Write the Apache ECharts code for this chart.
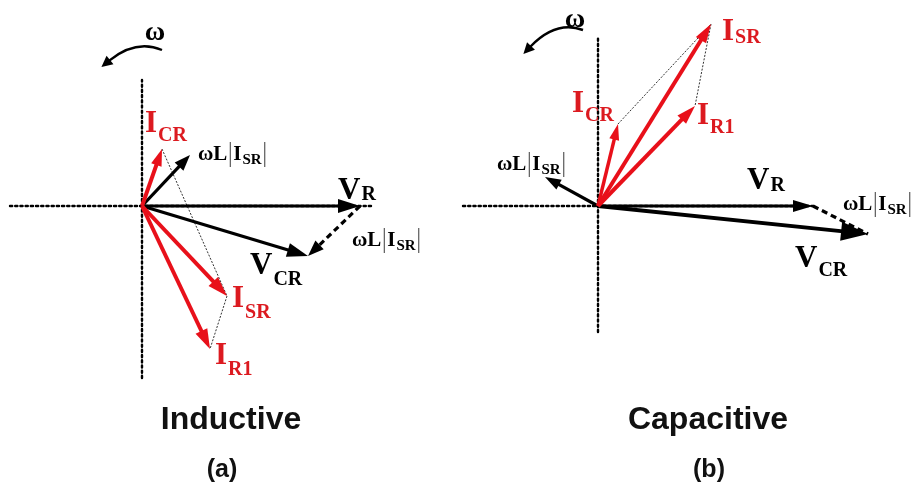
<!DOCTYPE html>
<html><head><meta charset="utf-8">
<script src="https://cdn.jsdelivr.net/npm/echarts@6/dist/echarts.min.js"></script>
<style>html,body{margin:0;padding:0;background:#fff}#c{width:914px;height:485px}</style>
</head><body><div id="c"></div>
<script>
// ---------------- data (phasor components, origin = 0,0, y up) ----------------
const vectorNames   = ['V_R', 'V_CR', 'wL_ISR', 'I_CR', 'I_SR', 'I_R1'];
const inductiveX    = [218, 166,  48,  20,  85,   68];
const inductiveY    = [  0, -50,  51,  57, -90, -143];
const capacitiveX   = [215, 270, -53,  20, 113,   97];
const capacitiveY   = [  0, -28,  29,  82, 182,  100];
const labelMain     = ['V', 'V', 'ωL', 'I', 'I', 'I'];
const labelSub      = ['R', 'CR', 'SR', 'CR', 'SR', 'R1'];
const panelTitles   = ['Inductive', 'Capacitive'];
const panelTags     = ['(a)', '(b)'];
const omegaText     = 'ω';

// ---------------- styles ----------------
const RED = '#e8101a', BLACK = '#000', LRED = '#dc1a20';
const MAINF = 'bold 31px "Liberation Serif"', SUBF = 'bold 20px "Liberation Serif"';
const WLF = 'bold 21px "Liberation Serif"', WLSUBF = 'bold 15px "Liberation Serif"';
const mctx = document.createElement('canvas').getContext('2d');
function tw(font, s) { mctx.font = font; return mctx.measureText(s).width; }

const vecStyleA = [
  {c: BLACK, w: 3.2, hl: 22, hw: 14}, {c: BLACK, w: 3.2, hl: 21, hw: 14}, {c: BLACK, w: 3.2, hl: 16, hw: 12},
  {c: RED, w: 4, hl: 17, hw: 11}, {c: RED, w: 4, hl: 20, hw: 13}, {c: RED, w: 4, hl: 20, hw: 13}];
const vecStyleB = [
  {c: BLACK, w: 2.8, hl: 20, hw: 12}, {c: BLACK, w: 3.8, hl: 27, hw: 19}, {c: BLACK, w: 3.2, hl: 16, hw: 11},
  {c: RED, w: 3.5, hl: 16, hw: 10}, {c: RED, w: 4, hl: 19, hw: 12}, {c: RED, w: 4, hl: 19, hw: 12}];
const dashStyleA = {c: BLACK, w: 3.2, hl: 16, hw: 12, dash: [6, 4]};
const dashStyleB = {c: BLACK, w: 3.2, hl: 0, hw: 0, dash: [6, 4]};
const dotStyle = {c: '#333', w: 1, hl: 0, hw: 0, dash: [2, 1.5]};

// label offsets (pixels, baseline-left of main glyph relative to vector tip)
const labelOffA = [[-22, -4], [-58, 21], [8, 7], [-17, -14], [5, 14], [5, 18]];
const labelSubDyA = [0, 10, 0, 8, 10, 10];
const labelOffB = [[-66, -14], [-73, 36], [-48, -5], [-46, -9], [11, 19], [2, 21]];
const labelSubDyB = [1, 8, 0, 8, 2, 8];
const dashLabelOffA = [-8, 42], dashLabelOffB = [30, 6];

function buildRows(X, Y) {
  const i = n => vectorNames.indexOf(n);
  const rows = [], kinds = [];
  rows.push([X[i('I_CR')], Y[i('I_CR')], X[i('I_SR')], Y[i('I_SR')]]); kinds.push('dot');
  rows.push([X[i('I_SR')], Y[i('I_SR')], X[i('I_R1')], Y[i('I_R1')]]); kinds.push('dot');
  rows.push([X[i('V_R')], Y[i('V_R')], X[i('V_CR')], Y[i('V_CR')]]); kinds.push('dash');
  [0, 1, 2, 3, 4, 5].forEach(k => { rows.push([0, 0, X[k], Y[k]]); kinds.push(k); });
  return {rows, kinds};
}

function arrow(p0, p1, st) {
  const dx = p1[0] - p0[0], dy = p1[1] - p0[1];
  const L = Math.hypot(dx, dy), ux = dx / L, uy = dy / L;
  const bx = p1[0] - ux * st.hl, by = p1[1] - uy * st.hl;
  const end = st.hl > 0 ? [bx + ux * 2, by + uy * 2] : p1;
  const ch = [{type: 'line', shape: {x1: p0[0], y1: p0[1], x2: end[0], y2: end[1]},
    style: {stroke: st.c, lineWidth: st.w, lineDash: st.dash || null, fill: null}}];
  if (st.hl > 0) ch.push({type: 'polygon', shape: {points: [[p1[0], p1[1]],
    [bx - uy * st.hw / 2, by + ux * st.hw / 2], [bx + uy * st.hw / 2, by - ux * st.hw / 2]]},
    style: {fill: st.c}});
  return {type: 'group', children: ch};
}

function arrowSeries(X, Y, vs, ds, gi) {
  const b = buildRows(X, Y);
  return {
    type: 'custom', xAxisIndex: gi, yAxisIndex: gi, clip: false, silent: true,
    data: b.rows, encode: {x: [0, 2], y: [1, 3]},
    renderItem: (params, api) => {
      const k = b.kinds[params.dataIndex];
      const st = k === 'dot' ? dotStyle : (k === 'dash' ? ds : vs[k]);
      return arrow(api.coord([api.value(0), api.value(1)]), api.coord([api.value(2), api.value(3)]), st);
    }
  };
}

function txt(x, base, s, font, fs, color) {
  return {type: 'text', style: {x: x, y: base - 0.34 * fs, text: s, font: font, fill: color,
    align: 'left', verticalAlign: 'middle'}};
}
function wlLabel(x, base) {
  const ch = [];
  ch.push(txt(x, base, labelMain[2], WLF, 21, BLACK));
  let cx = x + tw(WLF, labelMain[2]) + 3;
  ch.push({type: 'line', shape: {x1: cx, y1: base - 20, x2: cx, y2: base + 5}, style: {stroke: '#666', lineWidth: 1.3}});
  cx += 3;
  ch.push(txt(cx, base, 'I', WLF, 21, BLACK));
  cx += tw(WLF, 'I') + 1;
  ch.push(txt(cx, base + 3, labelSub[2], WLSUBF, 15, BLACK));
  cx += tw(WLSUBF, labelSub[2]) + 3;
  ch.push({type: 'line', shape: {x1: cx, y1: base - 20, x2: cx, y2: base + 5}, style: {stroke: '#666', lineWidth: 1.3}});
  return ch;
}
function ivLabel(x, base, main, sub, subDy, color) {
  const w = tw(MAINF, main);
  return [txt(x, base, main, MAINF, 31, color), txt(x + w + 1, base + subDy, sub, SUBF, 20, color)];
}

function labelSeries(X, Y, offs, subDys, dOff, gi) {
  const rows = X.map((x, k) => [x, Y[k]]);
  rows.push([X[0], Y[0]]); // dashed label anchored at V_R tip
  return {
    type: 'custom', xAxisIndex: gi, yAxisIndex: gi, clip: false, silent: true,
    data: rows, encode: {x: 0, y: 1},
    renderItem: (params, api) => {
      const i = params.dataIndex;
      const p = api.coord([api.value(0), api.value(1)]);
      let ch;
      if (i === 6) ch = wlLabel(p[0] + dOff[0], p[1] + dOff[1]);
      else if (i === 2) ch = wlLabel(p[0] + offs[i][0], p[1] + offs[i][1]);
      else ch = ivLabel(p[0] + offs[i][0], p[1] + offs[i][1], labelMain[i], labelSub[i], subDys[i], i >= 3 ? LRED : BLACK);
      return {type: 'group', children: ch};
    }
  };
}

const axisLineStyle = {show: true, onZero: true, lineStyle: {color: '#000', width: 2.4, type: [2.2, 3]}};
function xAx(gi, min, max) { return {type: 'value', gridIndex: gi, min, max, axisLine: axisLineStyle, axisTick: {show: false}, axisLabel: {show: false}, splitLine: {show: false}}; }
function yAx(gi, min, max) { return {type: 'value', gridIndex: gi, min, max, axisLine: axisLineStyle, axisTick: {show: false}, axisLabel: {show: false}, splitLine: {show: false}}; }

function curvedArrow(x0, y0, cx, cy, x1, y1, tipLen, hw) {
  const dx = x1 - cx, dy = y1 - cy, L = Math.hypot(dx, dy), ux = dx / L, uy = dy / L;
  const tx = x1 + ux * tipLen, ty = y1 + uy * tipLen;
  return [
    {type: 'bezierCurve', shape: {x1: x0, y1: y0, cpx1: cx, cpy1: cy, x2: x1 + ux * 1, y2: y1 + uy * 1}, style: {stroke: BLACK, lineWidth: 2.4, fill: null}},
    {type: 'polygon', shape: {points: [[tx, ty], [x1 - uy * hw / 2, y1 + ux * hw / 2], [x1 + uy * hw / 2, y1 - ux * hw / 2]]}, style: {fill: BLACK}}
  ];
}

const chart = echarts.init(document.getElementById('c'), null, {renderer: 'canvas'});
chart.setOption({
  animation: false,
  backgroundColor: '#fff',
  grid: [
    {left: 10, top: 80, width: 362, height: 298},
    {left: 463, top: 37, width: 350, height: 295}
  ],
  xAxis: [xAx(0, -132, 230), xAx(1, -135, 215)],
  yAxis: [yAx(0, -172, 126), yAx(1, -126, 169)],
  graphic: [].concat(
    curvedArrow(162, 50, 136, 39, 110, 60, 11, 11),
    curvedArrow(583, 30, 556, 20, 531, 46, 11, 11),
    [
      {type: 'text', style: {x: 155, y: 33, text: omegaText, font: 'bold 28px "Liberation Serif"', fill: BLACK, align: 'center', verticalAlign: 'middle'}},
      {type: 'text', style: {x: 575, y: 20, text: omegaText, font: 'bold 28px "Liberation Serif"', fill: BLACK, align: 'center', verticalAlign: 'middle'}},
      {type: 'text', style: {x: 231, y: 420, text: panelTitles[0], font: 'bold 32px "Liberation Sans"', fill: '#111', align: 'center', verticalAlign: 'middle'}},
      {type: 'text', style: {x: 708, y: 420, text: panelTitles[1], font: 'bold 32px "Liberation Sans"', fill: '#111', align: 'center', verticalAlign: 'middle'}},
      {type: 'text', style: {x: 222, y: 470, text: panelTags[0], font: 'bold 25px "Liberation Sans"', fill: '#111', align: 'center', verticalAlign: 'middle'}},
      {type: 'text', style: {x: 709, y: 470, text: panelTags[1], font: 'bold 25px "Liberation Sans"', fill: '#111', align: 'center', verticalAlign: 'middle'}}
    ]
  ),
  series: [
    arrowSeries(inductiveX, inductiveY, vecStyleA, dashStyleA, 0),
    arrowSeries(capacitiveX, capacitiveY, vecStyleB, dashStyleB, 1),
    labelSeries(inductiveX, inductiveY, labelOffA, labelSubDyA, dashLabelOffA, 0),
    labelSeries(capacitiveX, capacitiveY, labelOffB, labelSubDyB, dashLabelOffB, 1)
  ]
});
</script></body></html>
